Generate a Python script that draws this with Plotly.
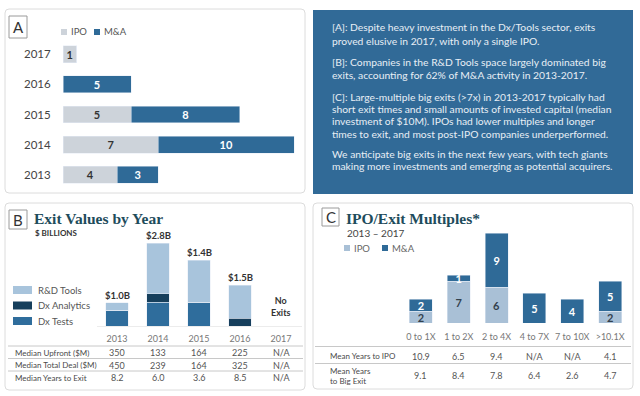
import plotly.graph_objects as go

W, H = 640, 396

# ---------------- data ----------------
# Panel A: number of exits per year
a_years = ["2013", "2014", "2015", "2016", "2017"]
a_ipo = [4, 7, 5, 0, 1]
a_mna = [3, 10, 8, 5, 0]

# Panel B: exit values by year ($ billions, segment estimates as drawn)
b_years = ["2013", "2014", "2015", "2016", "2017"]
b_dx_tests = [0.53, 0.81, 0.81, 0.0, 0.0]
b_dx_analytics = [0.0, 0.28, 0.0, 0.26, 0.0]
b_rd_tools = [0.26, 1.71, 1.42, 1.12, 0.0]
b_total_labels = ["$1.0B", "$2.8B", "$1.4B", "$1.5B", ""]
b_row_names = ["Median Upfront ($M)", "Median Total Deal ($M)", "Median Years to Exit"]
b_upfront = ["350", "133", "164", "225", "N/A"]
b_total_deal = ["450", "239", "164", "325", "N/A"]
b_years_exit = ["8.2", "6.0", "3.6", "8.5", "N/A"]

# Panel C: IPO / exit multiples 2013-2017
c_cats = ["0 to 1X", "1 to 2X", "2 to 4X", "4 to 7X", "7 to 10X", ">10.1X"]
c_ipo = [2, 7, 6, 0, 0, 2]
c_mna = [2, 1, 9, 5, 4, 5]
c_row_names = ["Mean Years to IPO", "Mean Years<br>to Big Exit"]
c_years_ipo = ["10.9", "6.5", "9.4", "N/A", "N/A", "4.1"]
c_years_exit = ["9.1", "8.4", "7.8", "6.4", "2.6", "4.7"]

notes = [
    ["[A]: Despite heavy investment in the Dx/Tools sector, exits",
     "proved elusive in 2017, with only a single IPO."],
    ["[B]: Companies in the R&D Tools space largely dominated big",
     "exits, accounting for 62% of M&A activity in 2013-2017."],
    ["[C]: Large-multiple big exits (>7x) in 2013-2017 typically had",
     "short exit times and small amounts of invested capital (median",
     "investment of $10M). IPOs had lower multiples and longer",
     "times to exit, and most post-IPO companies underperformed."],
    ["We anticipate big exits in the next few years, with tech giants",
     "making more investments and emerging as potential acquirers."],
]

# ---------------- styles ----------------
C_IPO_A = "#cdd3da"
C_IPO_C = "#a9c0d6"
C_MNA = "#2f6a97"
C_RD = "#a8c4dc"
C_DXA = "#163f5c"
C_DXT = "#2f6d9c"
C_PANEL = "#316a97"
SANS = "Lato, Open Sans, sans-serif"
SERIF = "Liberation Serif, DejaVu Serif, serif"
DARK = "#3a3a3a"


def X(px):
    return px / W


def Y(py):
    return 1 - py / H


def rrect(x0, y0, x1, y1, r, fill, line, lw=1):
    rx, ry = r / W, r / H
    a, b, c, d = X(x0), Y(y0), X(x1), Y(y1)
    path = (f"M {a+rx},{b} L {c-rx},{b} Q {c},{b} {c},{b-ry} L {c},{d+ry} "
            f"Q {c},{d} {c-rx},{d} L {a+rx},{d} Q {a},{d} {a},{d+ry} "
            f"L {a},{b-ry} Q {a},{b} {a+rx},{b} Z")
    return dict(type="path", path=path, xref="paper", yref="paper",
                fillcolor=fill, line=dict(color=line, width=lw), layer="below")


def box(x0, y0, x1, y1, fill, line="rgba(0,0,0,0)", lw=1, layer="below"):
    return dict(type="rect", xref="paper", yref="paper", x0=X(x0), x1=X(x1),
                y0=Y(y1), y1=Y(y0), fillcolor=fill,
                line=dict(color=line, width=lw), layer=layer)


def hline(x0, x1, py, color="#c8c8c8", w=1):
    return dict(type="line", xref="paper", yref="paper", x0=X(x0), x1=X(x1),
                y0=Y(py), y1=Y(py), line=dict(color=color, width=w))


def txt(px, py, s, size=9, color=DARK, family=SANS, xanchor="left", bold=False):
    if bold:
        s = f"<b>{s}</b>"
    return dict(x=X(px), y=Y(py), xref="paper", yref="paper", text=s,
                showarrow=False, xanchor=xanchor, yanchor="middle",
                font=dict(size=size, color=color, family=family))


def lbl(v):
    return str(v) if v else ""


fig = go.Figure()

# ---------------- Panel A ----------------
fig.add_trace(go.Bar(
    y=a_years, x=a_ipo, orientation="h", name="IPO", marker_color=C_IPO_A,
    width=0.56, xaxis="x", yaxis="y", showlegend=False,
    text=[lbl(v) for v in a_ipo], textposition="inside", textangle=0,
    insidetextanchor="middle", constraintext="none",
    textfont=dict(size=11, color="#333333", family=SANS, weight="bold"),
    hoverinfo="skip"))
fig.add_trace(go.Bar(
    y=a_years, x=a_mna, orientation="h", name="M&A", marker_color=C_MNA,
    width=0.56, xaxis="x", yaxis="y", showlegend=False,
    text=[lbl(v) for v in a_mna], textposition="inside", textangle=0,
    insidetextanchor="middle", constraintext="none",
    textfont=dict(size=11, color="white", family=SANS, weight="bold"),
    hoverinfo="skip"))

# ---------------- Panel B ----------------
for vals, nm, col in [(b_dx_tests, "Dx Tests", C_DXT),
                      (b_dx_analytics, "Dx Analytics", C_DXA),
                      (b_rd_tools, "R&D Tools", C_RD)]:
    fig.add_trace(go.Bar(x=b_years, y=vals, name=nm, marker_color=col,
                         width=0.56, xaxis="x2", yaxis="y2", showlegend=False,
                         hoverinfo="skip"))

# ---------------- Panel C ----------------
fig.add_trace(go.Bar(
    x=c_cats, y=c_ipo, name="IPO", marker_color=C_IPO_C, width=0.61,
    xaxis="x3", yaxis="y3", showlegend=False,
    text=[lbl(v) for v in c_ipo], textposition="inside", textangle=0,
    insidetextanchor="middle", constraintext="none",
    textfont=dict(size=11, color="#33414d", family=SANS, weight="bold"),
    hoverinfo="skip"))
fig.add_trace(go.Bar(
    x=c_cats, y=c_mna, name="M&A", marker_color=C_MNA, width=0.61,
    xaxis="x3", yaxis="y3", showlegend=False,
    text=[lbl(v) for v in c_mna], textposition="inside", textangle=0,
    insidetextanchor="middle", constraintext="none",
    textfont=dict(size=11, color="white", family=SANS, weight="bold"),
    hoverinfo="skip"))

shapes = []
ann = []

# panel frames
shapes.append(rrect(5, 9, 305, 193, 4, "white", "#dcdcdc"))
shapes.append(rrect(5, 203, 305, 390, 4, "white", "#dcdcdc"))
shapes.append(rrect(313, 203, 633, 389, 4, "white", "#dcdcdc"))
shapes.append(box(313, 10, 633, 194, C_PANEL))

# letter boxes
for (x0, y0, x1, y1, L) in [(9, 16, 27, 38, "A"), (9, 210, 27, 229, "B"),
                            (322, 208, 339, 226, "C")]:
    shapes.append(box(x0, y0, x1, y1, "white", "#9a9a9a", 1, layer="above"))
    ann.append(txt((x0 + x1) / 2, (y0 + y1) / 2 + 0.5, L, size=15, color="#333333",
                   xanchor="center"))

# Panel A legend
shapes.append(box(61, 29, 67, 35, C_IPO_A, layer="above"))
ann.append(txt(69, 32, "IPO", size=9.5, color="#555555"))
shapes.append(box(94, 29, 100, 35, C_MNA, layer="above"))
ann.append(txt(102, 32, "M&A", size=9.5, color="#555555"))

# Panel B header
ann.append(txt(32, 218, "Exit Values by Year", size=15.5, color="#1e4c5c",
               family=SERIF, bold=True))
ann.append(txt(33, 233, "$ BILLIONS", size=8, color="#333333", bold=True))
for py, nm, col in [(290, "R&D Tools", C_RD), (305.5, "Dx Analytics", C_DXA),
                    (321, "Dx Tests", C_DXT)]:
    shapes.append(box(13, py - 4, 32, py + 4, col, layer="above"))
    ann.append(txt(36, py, nm, size=9.5, color="#555555"))

# Panel B totals and "No Exits" (x given as category index)
b_tot = [a + b + c for a, b, c in zip(b_dx_tests, b_dx_analytics, b_rd_tools)]
for i, (t, lab) in enumerate(zip(b_tot, b_total_labels)):
    if lab:
        ann.append(dict(x=i, y=t, xref="x2", yref="y2", text=f"<b>{lab}</b>",
                        showarrow=False, yanchor="bottom", yshift=0,
                        font=dict(size=9.5, color="#333333", family=SANS)))
ann.append(dict(x=len(b_years) - 1, y=0, xref="x2", yref="y2",
                text="<b>No<br>Exits</b>", showarrow=False, yanchor="bottom",
                yshift=6, font=dict(size=9, color="#333333", family=SANS)))

# Panel B table
for py in [346, 358.5, 371]:
    shapes.append(hline(8, 303, py))
for py, name, vals in [(352.5, b_row_names[0], b_upfront),
                       (365, b_row_names[1], b_total_deal),
                       (377.5, b_row_names[2], b_years_exit)]:
    ann.append(txt(13, py, name, size=8, color="#4a4a4a"))
    for i, v in enumerate(vals):
        ann.append(dict(x=i, y=Y(py), xref="x2", yref="paper", text=v,
                        showarrow=False, yanchor="middle",
                        font=dict(size=9, color="#555555", family=SANS)))

# Panel C header
ann.append(txt(344, 218, "IPO/Exit Multiples*", size=15.5, color="#1e4c5c",
               family=SERIF, bold=True))
ann.append(txt(345, 233, "2013 \u2013 2017", size=10, color="#444444"))
shapes.append(box(344, 245, 350, 251, C_IPO_C, layer="above"))
ann.append(txt(352, 248, "IPO", size=9.5, color="#666666"))
shapes.append(box(382, 245, 388, 251, C_MNA, layer="above"))
ann.append(txt(390, 248, "M&A", size=9.5, color="#666666"))

# Panel C table
shapes.append(hline(315, 631, 346.5))
shapes.append(hline(315, 631, 363.5))
ann.append(txt(328, 356, c_row_names[0], size=8, color="#4a4a4a"))
ann.append(dict(x=X(328), y=Y(376), xref="paper", yref="paper",
                text=c_row_names[1], showarrow=False, xanchor="left",
                yanchor="middle", align="left",
                font=dict(size=8, color="#4a4a4a", family=SANS)))
for py, vals in [(356, c_years_ipo), (375, c_years_exit)]:
    for i, v in enumerate(vals):
        ann.append(dict(x=i, y=Y(py), xref="x3", yref="paper", text=v,
                        showarrow=False, yanchor="middle",
                        font=dict(size=9, color="#555555", family=SANS)))

# Notes panel
line_y = [[27, 40.5], [62, 75], [97, 109, 121, 133.5], [153.5, 166]]
for para, ys in zip(notes, line_y):
    for s, py in zip(para, ys):
        ann.append(txt(330, py, s, size=10.3, color="#e8eef5"))

fig.update_layout(
    width=W, height=H, margin=dict(l=0, r=0, t=0, b=0),
    paper_bgcolor="white", plot_bgcolor="rgba(0,0,0,0)",
    barmode="stack", showlegend=False,
    shapes=shapes, annotations=ann,
    xaxis=dict(domain=[X(63), X(303)], range=[0, 240 / 13.6], visible=False,
               fixedrange=True),
    yaxis=dict(domain=[Y(190), Y(39)], type="category",
               categoryorder="array", categoryarray=a_years,
               showgrid=False, showline=False, zeroline=False,
               ticks="outside", ticklen=9, tickcolor="rgba(0,0,0,0)",
               tickfont=dict(size=11.5, color="#444444", family=SANS)),
    xaxis2=dict(domain=[X(96.5), X(301.5)], type="category",
                categoryorder="array", categoryarray=b_years,
                range=[-0.5, len(b_years) - 0.5],
                showgrid=False, zeroline=False, showline=True,
                linecolor="#ececec", linewidth=1,
                ticks="outside", ticklen=4, tickcolor="rgba(0,0,0,0)",
                tickfont=dict(size=9, color="#777777", family=SANS),
                anchor="y2"),
    yaxis2=dict(domain=[Y(326), Y(230)], range=[0, 96 / 29.5], visible=False,
                anchor="x2"),
    xaxis3=dict(domain=[X(402), X(629)], type="category",
                categoryorder="array", categoryarray=c_cats,
                range=[-0.5, len(c_cats) - 0.5],
                showgrid=False, zeroline=False, showline=False,
                ticks="outside", ticklen=5, tickcolor="rgba(0,0,0,0)",
                tickfont=dict(size=9, color="#777777", family=SANS),
                anchor="y3"),
    yaxis3=dict(domain=[Y(323), Y(230)], range=[0, 93 / 6], visible=False,
                anchor="x3"),
)

fig.write_html("out.html", config={"displayModeBar": False},
               post_script="document.body.style.margin='0px';")
